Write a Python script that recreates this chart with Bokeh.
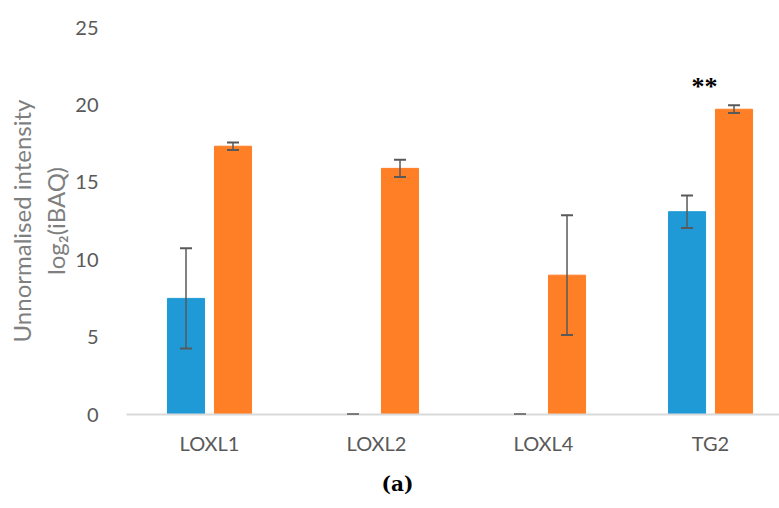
from bokeh.plotting import figure
from bokeh.models import ColumnDataSource, Whisker, TeeHead, FixedTicker, Range1d, Title
from bokeh.embed import file_html
from bokeh.resources import INLINE

categories = ["LOXL1", "LOXL2", "LOXL4", "TG2"]
blue_vals = [7.5, 0.0, 0.0, 13.1]
blue_err = [3.24, 0.0, 0.0, 1.05]
orange_vals = [17.33, 15.9, 9.0, 19.72]
orange_err = [0.24, 0.55, 3.87, 0.25]
y_ticks = [0, 5, 10, 15, 20, 25]
sig_labels = ["", "", "", "**"]

BLUE = "#1F9AD6"
ORANGE = "#FF7F27"
ERR = "#595959"
OFF = 0.1407
W = 0.222

idx = list(range(len(categories)))

p = figure(width=779, height=508, output_backend="svg", toolbar_location=None,
           x_range=Range1d(-0.497, 3.413), y_range=Range1d(0, 25),
           min_border_left=126, min_border_right=0, min_border_top=27, min_border_bottom=94)
p.outline_line_color = None
p.xgrid.visible = False
p.ygrid.visible = False
p.background_fill_color = "white"
p.border_fill_color = "white"

bsrc = ColumnDataSource(dict(
    x=[i - OFF for i in idx], top=blue_vals,
    upper=[v + e for v, e in zip(blue_vals, blue_err)],
    lower=[v - e for v, e in zip(blue_vals, blue_err)]))
osrc = ColumnDataSource(dict(
    x=[i + OFF for i in idx], top=orange_vals,
    upper=[v + e for v, e in zip(orange_vals, orange_err)],
    lower=[v - e for v, e in zip(orange_vals, orange_err)]))

p.vbar(x="x", top="top", width=W, source=bsrc, fill_color=BLUE, line_color=BLUE)
p.vbar(x="x", top="top", width=W, source=osrc, fill_color=ORANGE, line_color=ORANGE)

for src in (bsrc, osrc):
    wk = Whisker(source=src, base="x", upper="upper", lower="lower", level="overlay",
                 line_color=ERR, line_width=1.5,
                 upper_head=TeeHead(size=12, line_color=ERR, line_width=2),
                 lower_head=TeeHead(size=12, line_color=ERR, line_width=2))
    p.add_layout(wk)

# significance marks
ssrc = ColumnDataSource(dict(x=idx, y=[u + 1.25 for u in osrc.data["upper"]], t=sig_labels))
p.text(x="x", y="y", text="t", source=ssrc, text_align="center", text_baseline="middle",
       text_font_size="26px", text_font_style="bold", text_color="black", x_offset=-6,
       text_font="DejaVu Sans")

# axes
p.xaxis.ticker = FixedTicker(ticks=idx)
p.xaxis.major_label_overrides = {i: c for i, c in zip(idx, categories)}
p.xaxis.axis_line_color = "#D9D9D9"
p.xaxis.axis_line_width = 2
p.xaxis.major_tick_line_color = None
p.xaxis.minor_tick_line_color = None
p.xaxis.major_label_text_font = "Lato"
p.xaxis.major_label_text_font_size = "20px"
p.xaxis.major_label_text_color = "#595959"
p.xaxis.major_label_standoff = 10

p.yaxis.ticker = FixedTicker(ticks=y_ticks)
p.yaxis.axis_line_color = None
p.yaxis.major_tick_line_color = None
p.yaxis.minor_tick_line_color = None
p.yaxis.major_label_text_font = "Lato"
p.yaxis.major_label_text_font_size = "20px"
p.yaxis.major_label_text_color = "#595959"
p.yaxis.major_label_standoff = 22

# y axis title (two lines)
p.add_layout(Title(text="log\u2082(iBAQ)", align="center", offset=21, standoff=6,
                   text_font="Lato", text_font_size="24px", text_font_style="normal",
                   text_color="#7F7F7F"), "left")
p.add_layout(Title(text="Unnormalised intensity", align="center", offset=4, standoff=0,
                   text_font="Lato", text_font_size="24px", text_font_style="normal",
                   text_color="#7F7F7F"), "left")

# panel caption
p.add_layout(Title(text="(a)", align="left", offset=255, standoff=25,
                   text_font="DejaVu Serif", text_font_size="20px", text_font_style="bold",
                   text_color="black"), "below")

open("out.html", "w").write(file_html(p, INLINE))
